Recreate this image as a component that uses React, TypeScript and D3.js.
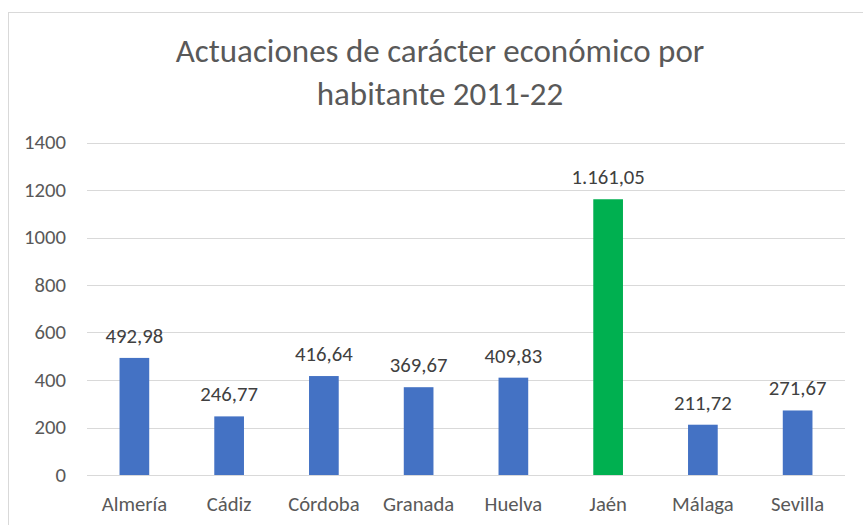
import React from "react";
import * as d3 from "d3";

const categories = ["Almería", "Cádiz", "Córdoba", "Granada", "Huelva", "Jaén", "Málaga", "Sevilla"];
const values = [492.98, 246.77, 416.64, 369.67, 409.83, 1161.05, 211.72, 271.67];
const valueLabels = ["492,98", "246,77", "416,64", "369,67", "409,83", "1.161,05", "211,72", "271,67"];
const yTicks = [0, 200, 400, 600, 800, 1000, 1200, 1400];
const titleLines = ["Actuaciones de carácter económico por", "habitante 2011-22"];

const W = 863;
const H = 525;
const FONT = "Carlito, Calibri, 'Open Sans', 'Liberation Sans', sans-serif";

export default function App() {
  const left = 87, right = 845, top = 142.5, bottom = 475;
  const x = d3.scaleBand().domain(categories).range([left, right]).paddingInner(0.6866).paddingOuter(0.3433);
  const y = d3.scaleLinear().domain([0, 1400]).range([bottom, top]);
  const bw = x.bandwidth();
  return (
    <svg width={W} height={H} style={{ position: "absolute", left: 0, top: 0, background: "#fff" }}>
      <rect x={8.5} y={12.5} width={W + 10} height={H + 10} fill="#fff" stroke="#d9d9d9" strokeWidth={1} />
      {titleLines.map((t, i) => (
        <text key={i} x={440} y={62 + i * 43} textAnchor="middle" fontFamily={FONT} fontSize={33} fill="#595959">{t}</text>
      ))}
      {yTicks.map((t) => (
        <g key={t}>
          <line x1={left} x2={right} y1={Math.round(y(t)) + 0.5} y2={Math.round(y(t)) + 0.5} stroke="#d9d9d9" strokeWidth={1} />
          <text x={66} y={y(t) + 6.5} textAnchor="end" fontFamily={FONT} fontSize={20.7} fill="#595959">{t}</text>
        </g>
      ))}
      {categories.map((c, i) => (
        <g key={c}>
          <rect x={x(c)!} y={y(values[i])} width={bw} height={y(0) - y(values[i])} fill={c === "Jaén" ? "#00B050" : "#4472C4"} />
          <text x={x(c)! + bw / 2} y={y(values[i]) - 15} textAnchor="middle" fontFamily={FONT} fontSize={20.7} fill="#404040">{valueLabels[i]}</text>
          <text x={x(c)! + bw / 2} y={510.5} textAnchor="middle" fontFamily={FONT} fontSize={20.7} fill="#595959">{c}</text>
        </g>
      ))}
    </svg>
  );
}
